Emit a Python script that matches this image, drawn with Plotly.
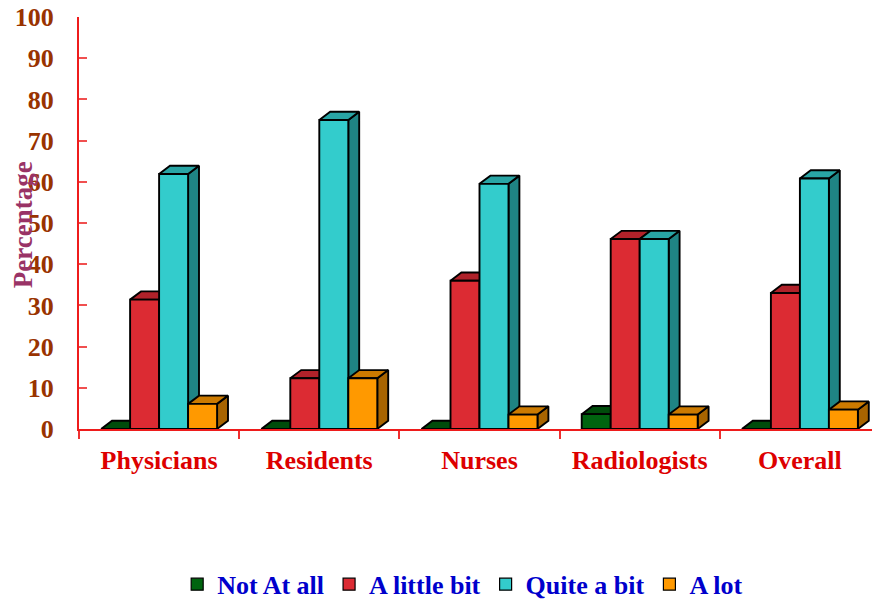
import plotly.graph_objects as go

categories = ["Physicians", "Residents", "Nurses", "Radiologists", "Overall"]
series_names = ["Not At all", "A little bit", "Quite a bit", "A lot"]
not_at_all = [0, 0, 0, 3.6, 0]
a_little_bit = [31.4, 12.3, 36.0, 46.1, 33.0]
quite_a_bit = [61.9, 75.0, 59.5, 46.1, 60.8]
a_lot = [6.1, 12.3, 3.5, 3.5, 4.7]
y_ticks = [0, 10, 20, 30, 40, 50, 60, 70, 80, 90, 100]

series_values = [not_at_all, a_little_bit, quite_a_bit, a_lot]
front_colors = ["#00640F", "#DC2B33", "#33CCCC", "#FF9900"]
top_colors = ["#004C0B", "#B0222A", "#29A5A5", "#CC7A00"]
side_colors = ["#003A08", "#8A1A20", "#1F8484", "#A86400"]

W = 0.181   # bar width in category units
DX = 0.068  # depth offset (x, category units)
DY = 2.0    # depth offset (y, data units)

fig = go.Figure()

for si, (name, vals) in enumerate(zip(series_names, series_values)):
    faces = {"side": ([], []), "top": ([], []), "front": ([], [])}
    for ci, v in enumerate(vals):
        x1 = ci + (si - 2) * W
        x2 = x1 + W
        sx, sy = faces["side"]
        sx += [x2, x2 + DX, x2 + DX, x2, x2, None]
        sy += [0, DY, v + DY, v, 0, None]
        tx, ty = faces["top"]
        tx += [x1, x2, x2 + DX, x1 + DX, x1, None]
        ty += [v, v, v + DY, v + DY, v, None]
        fx, fy = faces["front"]
        fx += [x1, x2, x2, x1, x1, None]
        fy += [0, 0, v, v, 0, None]
    for face, col in (("side", side_colors[si]), ("top", top_colors[si]), ("front", front_colors[si])):
        xs, ys = faces[face]
        fig.add_trace(go.Scatter(
            x=xs, y=ys, mode="lines", fill="toself", fillcolor=col,
            line=dict(color="black", width=1.9), showlegend=False,
            hoverinfo="skip",
        ))
    fig.add_trace(go.Bar(
        x=[None], y=[None], name=name,
        marker=dict(color=front_colors[si], line=dict(color="black", width=1.2)),
        showlegend=True,
    ))

font_family = "Liberation Serif, Times New Roman, serif"

fig.update_layout(
    width=880, height=600,
    margin=dict(l=71, r=8, t=9, b=178.5, autoexpand=False),
    paper_bgcolor="white", plot_bgcolor="white",
    font=dict(family=font_family),
    showlegend=True,
    legend=dict(
        orientation="h", x=0.479, xanchor="center", y=-0.377, yanchor="middle",
        font=dict(family=font_family, size=26, color="#0000CC", weight="bold"),
        itemclick=False, itemdoubleclick=False, traceorder="normal",
        itemwidth=30,
    ),
    xaxis=dict(
        range=[-0.5, 4.5], automargin=False,
        tickvals=list(range(len(categories))), ticktext=categories,
        ticks="", showgrid=False, zeroline=False,
        showline=True, linecolor="#EE1C1C", linewidth=2,
        tickfont=dict(family=font_family, size=26, color="#DD0000", weight="bold"),
        ticklabelstandoff=7,
        minor=dict(tickvals=[i - 0.5 for i in range(len(categories) + 1)],
                   ticks="outside", ticklen=8, tickcolor="#EE3030", tickwidth=1.5),
        fixedrange=True,
    ),
    yaxis=dict(
        range=[0, 100], tickvals=y_ticks, automargin=False,
        ticks="inside", ticklen=8, tickcolor="#F05050", tickwidth=1.5,
        showgrid=False, zeroline=False,
        showline=True, linecolor="#EE1C1C", linewidth=2,
        tickfont=dict(family=font_family, size=26, color="#993300", weight="bold"),
        ticklabelstandoff=18, ticklabeloverflow="allow",
        fixedrange=True,
    ),
    annotations=[dict(
        text="Percentage", xref="paper", yref="paper",
        x=-0.0705, y=0.496, xanchor="center", yanchor="middle",
        textangle=-90, showarrow=False, borderpad=0,
        font=dict(family=font_family, size=27, color="#993366", weight="bold"),
    )],
)

fig.write_html("out.html")
